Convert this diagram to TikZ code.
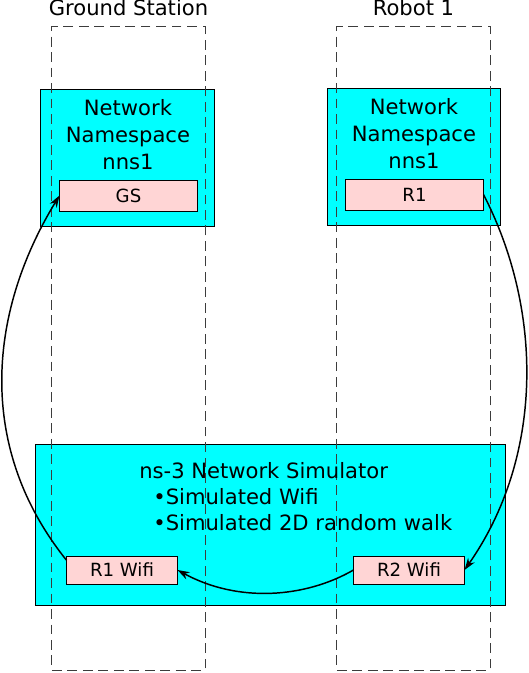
\documentclass[tikz,border=0pt]{standalone}
\usepackage{fontspec}
\setmainfont{DejaVu Sans}
\usepackage{tikz}
\usetikzlibrary{positioning}
\usetikzlibrary{arrows.meta}
\usepackage{xcolor}
\definecolor{nsCyan}{RGB}{0,255,255}
\definecolor{ifPink}{RGB}{255,213,213}
\definecolor{hostGray}{RGB}{60,60,60}

\begin{document}
\begin{tikzpicture}[x=0.025cm, y=-0.025cm,
    bigtext/.style={inner sep=0pt, font=\fontsize{15}{19.2}\selectfont},
    host/.style={draw=hostGray, dash pattern=on 7pt off 4pt, line width=0.7pt, minimum width=3.825cm, minimum height=16.075cm, inner sep=0pt},
    nsbox/.style={draw, fill=nsCyan, line width=0.7pt, inner sep=0pt},
    ifbox/.style={draw, fill=ifPink, line width=0.7pt, inner sep=0pt, font=\fontsize{12.9}{15}\selectfont},
    link/.style={line width=1.05pt, -{Stealth[length=3mm, width=2mm]}}]
    \useasboundingbox (0,0) rectangle (528,673);

    % Network namespaces
    \node (nnsGS) [nsbox, minimum width=4.325cm, minimum height=3.4cm] at (127.5,158) {};
    \node (nnsR1) [nsbox, minimum width=4.3cm, minimum height=3.4cm] at (414,157) {};
    % Simulator
    \node (ns3) [nsbox, minimum width=11.725cm, minimum height=4cm] at (270.5,525) {};

    % Hosts
    \node (gsHost) [host] at (128.5,348.5) {};
    \node (r1Host) [host] at (413.5,348.5) {};
    \node (gsLabel) [bigtext, above=0.25cm of gsHost] {Ground Station};
    \node (r1Label) [bigtext, above=0.25cm of r1Host] {Robot 1};

    % Texts
    \node (nnsGSText) [bigtext, align=center] at (128,135) {Network\\Namespace\\nns1};
    \node (nnsR1Text) [bigtext, align=center] at (414,134) {Network\\Namespace\\nns1};
    \node (ns3Text) [inner sep=0pt, align=left, anchor=west, font=\fontsize{15}{18.5}\selectfont] at (139,497)
        {ns-3 Network Simulator\\\hspace*{10pt}•Simulated Wifi\\\hspace*{10pt}•Simulated 2D random walk};

    % Interfaces
    \node (gs) [ifbox, minimum width=3.425cm, minimum height=0.775cm] at (128.5,195.5) {GS};
    \node (r1) [ifbox, minimum width=3.425cm, minimum height=0.775cm] at (414.5,194.5) {R1};
    \node (r1wifi) [ifbox, minimum width=2.75cm, minimum height=0.7cm] at (122,570) {R1 Wifi};
    \node (r2wifi) [ifbox, minimum width=2.75cm, minimum height=0.7cm] at (409,570) {R2 Wifi};

    % Traffic
    \draw [link] (r1wifi.170) .. controls (-22,450) and (-14,316) .. (gs.west);
    \draw [link] (r1.east) .. controls (544,312) and (543,458) .. (r2wifi.east);
    \draw [link] (r2wifi.west) .. controls (305,598) and (238,603) .. (r1wifi.east);
\end{tikzpicture}
\end{document}
